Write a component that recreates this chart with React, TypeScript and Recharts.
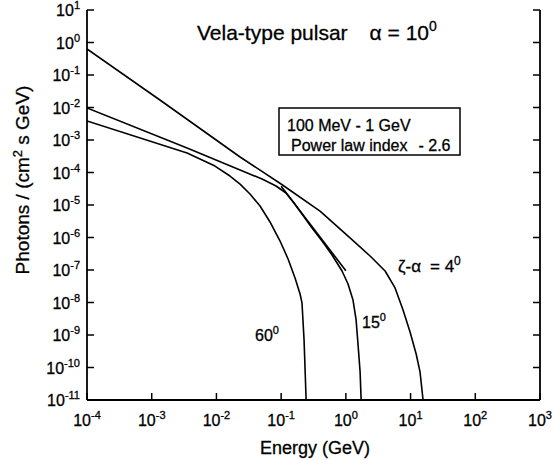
import React from "react";
import { LineChart, Line, XAxis, YAxis } from "recharts";

// axis ticks (decades)
const energyTicks = [1e-4, 1e-3, 1e-2, 1e-1, 1, 10, 100, 1000];
const fluxTicks = [1e-11, 1e-10, 1e-9, 1e-8, 1e-7, 1e-6, 1e-5, 1e-4, 1e-3, 1e-2, 1e-1, 1, 10];

// zeta - alpha = 4 deg
const zeta4Energy = [1e-4, 1.34e-3, 0.0232, 0.0997, 0.399, 1.16, 2.37, 4.04, 5.76, 7.65, 9.82, 12.2, 14.0, 15.6];
const zeta4Flux = [0.63, 0.017, 3.0e-4, 4.43e-5, 6.5e-6, 9.7e-7, 2.7e-7, 9.3e-8, 2.8e-8, 5.9e-9, 1.24e-9, 2.6e-10, 7.3e-11, 1e-11];

// 15 deg
const zeta15Energy = [1e-4, 3.52e-3, 0.0232, 0.0507, 0.0834, 0.119, 0.158, 0.21, 0.3, 0.429, 0.612, 0.873, 1.08, 1.29, 1.44, 1.545, 1.66, 1.72];
const zeta15Flux = [9.7e-3, 5.7e-4, 1.19e-4, 6.3e-5, 3.85e-5, 2.34e-5, 1.15e-5, 5.3e-6, 1.96e-6, 7.8e-7, 2.9e-7, 9.3e-8, 3.7e-8, 1.19e-8, 2.9e-9, 4.9e-10, 7.3e-11, 1.07e-11];

// 60 deg
const zeta60Energy = [1e-4, 3.52e-3, 9.5e-3, 0.0162, 0.0232, 0.033, 0.0472, 0.0673, 0.0962, 0.128, 0.164, 0.196, 0.21, 0.226, 0.243];
const zeta60Flux = [3.85e-3, 4.0e-4, 1.58e-4, 7.8e-5, 4.4e-5, 2.18e-5, 9.3e-6, 3.0e-6, 7.8e-7, 2.18e-7, 5.7e-8, 1.83e-8, 9.7e-9, 7.0e-10, 1.07e-11];

// power law fit 100 MeV - 1 GeV, index -2.6
const fitEnergy = [0.1, 1];
const fitFlux = [3.8e-5, 9.5e-8];

const zip = (es: number[], fs: number[]) => es.map((e, i) => ({ e, f: fs[i] }));

const FONT = "Arial, 'Liberation Sans', Helvetica, sans-serif";
const TICK = 7;
const INK = "#000";
const txt = { fontFamily: FONT, fill: INK, stroke: INK, strokeWidth: 0.3 };

const expOf = (v: number) => Math.round(Math.log10(v));

const LeftTick = (props: any) => {
  const { x, y, payload } = props;
  return (
    <g>
      <line x1={x} y1={y} x2={x + TICK} y2={y} stroke={INK} strokeWidth={1.5} />
      <text x={x - 7} y={y + 6} textAnchor="end" fontSize={16} {...txt}>
        10
        <tspan dy={-7} fontSize={11}>{expOf(payload.value)}</tspan>
      </text>
    </g>
  );
};

const RightTick = (props: any) => {
  const { x, y } = props;
  return <line x1={x} y1={y} x2={x - TICK} y2={y} stroke={INK} strokeWidth={1.5} />;
};

const BottomTick = (props: any) => {
  const { x, y, payload } = props;
  return (
    <g>
      <line x1={x} y1={y} x2={x} y2={y - TICK} stroke={INK} strokeWidth={1.5} />
      <text x={x} y={y + 26} textAnchor="middle" fontSize={16} {...txt}>
        10
        <tspan dy={-7} fontSize={11}>{expOf(payload.value)}</tspan>
      </text>
    </g>
  );
};

const TopTick = (props: any) => {
  const { x, y } = props;
  return <line x1={x} y1={y} x2={x} y2={y + TICK} stroke={INK} strokeWidth={1.5} />;
};

const axisLine = { stroke: INK, strokeWidth: 1.8 };

export default function App() {
  const series = [
    zip(zeta4Energy, zeta4Flux),
    zip(zeta15Energy, zeta15Flux),
    zip(zeta60Energy, zeta60Flux),
    zip(fitEnergy, fitFlux),
  ];

  return (
    <div style={{ position: "absolute", left: 0, top: 0, background: "#fff" }}>
      <LineChart width={554} height={460} margin={{ top: 10, right: 0, bottom: 0, left: 0 }}>
        <XAxis
          dataKey="e"
          type="number"
          scale="log"
          domain={[1e-4, 1e3]}
          allowDataOverflow
          ticks={energyTicks}
          interval={0}
          height={60}
          tickSize={0}
          tickMargin={0}
          tickLine={false}
          axisLine={axisLine}
          tick={BottomTick}
        />
        <XAxis
          xAxisId="top"
          orientation="top"
          dataKey="e"
          type="number"
          scale="log"
          domain={[1e-4, 1e3]}
          allowDataOverflow
          ticks={energyTicks}
          interval={0}
          height={0}
          tickSize={0}
          tickMargin={0}
          tickLine={false}
          axisLine={axisLine}
          tick={TopTick}
        />
        <YAxis
          type="number"
          scale="log"
          domain={[1e-11, 10]}
          allowDataOverflow
          ticks={fluxTicks}
          interval={0}
          width={87}
          tickSize={0}
          tickMargin={0}
          tickLine={false}
          axisLine={axisLine}
          tick={LeftTick}
        />
        <YAxis
          yAxisId="right"
          orientation="right"
          type="number"
          scale="log"
          domain={[1e-11, 10]}
          allowDataOverflow
          ticks={fluxTicks}
          interval={0}
          width={14}
          tickSize={0}
          tickMargin={0}
          tickLine={false}
          axisLine={axisLine}
          tick={RightTick}
        />

        {series.map((d, i) => (
          <Line
            key={i}
            data={d}
            dataKey="f"
            type="linear"
            stroke={INK}
            strokeWidth={1.6}
            strokeLinejoin="round"
            dot={false}
            activeDot={false}
            isAnimationActive={false}
          />
        ))}

        {/* annotations */}
        <text x={197} y={40} fontSize={21} {...txt}>
          Vela-type pulsar
          <tspan dx={22}>α = 10</tspan>
          <tspan dy={-9} fontSize={14}>0</tspan>
        </text>

        <rect x={279} y={108} width={181} height={47} fill="#fff" stroke={INK} strokeWidth={1.5} />
        <text x={287} y={131} fontSize={16} {...txt}>
          100 MeV - 1 GeV
        </text>
        <text x={291} y={151} fontSize={16} {...txt}>
          Power law index
          <tspan dx={11}>- 2.6</tspan>
        </text>

        <text x={398} y={272} fontSize={17} {...txt}>
          ζ-α
          <tspan dx={9}>= 4</tspan>
          <tspan dy={-7} fontSize={12}>0</tspan>
        </text>
        <text x={362} y={328} fontSize={16} {...txt}>
          15
          <tspan dy={-7} fontSize={11}>0</tspan>
        </text>
        <text x={255} y={341} fontSize={16} {...txt}>
          60
          <tspan dy={-7} fontSize={11}>0</tspan>
        </text>

        <text
          x={29}
          y={180}
          transform="rotate(-90 29 180)"
          textAnchor="middle"
          fontSize={19}
          {...txt}
        >
          Photons / (cm
          <tspan dy={-7} fontSize={13}>2</tspan>
          <tspan dy={7}> s GeV)</tspan>
        </text>
        <text x={315} y={454} textAnchor="middle" fontSize={18} {...txt}>
          Energy (GeV)
        </text>
      </LineChart>
    </div>
  );
}
